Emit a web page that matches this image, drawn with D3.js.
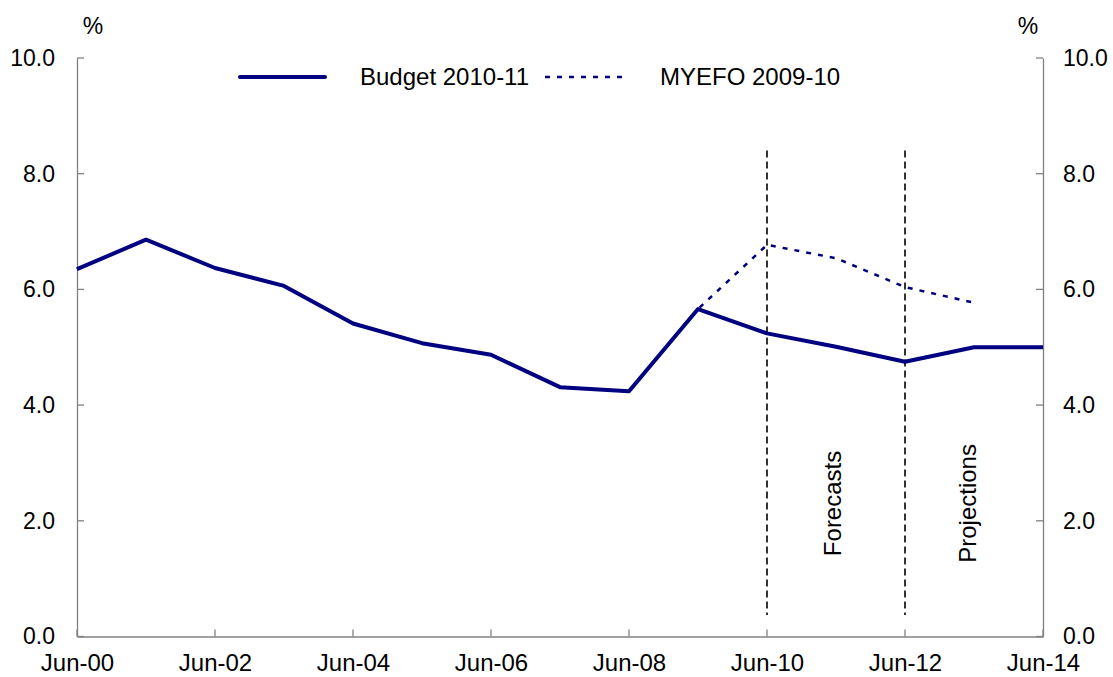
<!DOCTYPE html>
<html>
<head>
<meta charset="utf-8">
<script src="https://cdn.jsdelivr.net/npm/d3@7"></script>
<style>
  body { margin: 0; background: #fff; }
  text { font-family: "Liberation Sans", Arial, sans-serif; fill: #000; }
</style>
</head>
<body>
<div id="chart"></div>
<script>
// data (June of each year)
var years = [2000, 2001, 2002, 2003, 2004, 2005, 2006, 2007, 2008, 2009, 2010, 2011, 2012, 2013, 2014];
var budget = [6.35, 6.86, 6.37, 6.06, 5.41, 5.07, 4.87, 4.31, 4.24, 5.66, 5.24, 5.01, 4.75, 5.00, 5.00];
var myefoYears = [2000, 2001, 2002, 2003, 2004, 2005, 2006, 2007, 2008, 2009, 2010, 2011, 2012, 2013];
var myefo = [6.35, 6.86, 6.37, 6.06, 5.41, 5.07, 4.87, 4.31, 4.24, 5.66, 6.77, 6.54, 6.04, 5.77];
var xTicks = [2000, 2002, 2004, 2006, 2008, 2010, 2012, 2014];
var xTickLabels = ['Jun-00', 'Jun-02', 'Jun-04', 'Jun-06', 'Jun-08', 'Jun-10', 'Jun-12', 'Jun-14'];
var yTicks = [0, 2, 4, 6, 8, 10];
var markers = [2010, 2012];
var markerLabels = ['Forecasts', 'Projections'];
var seriesNames = ['Budget 2010-11', 'MYEFO 2009-10'];

var svgWidth = 1113;
var svgHeight = 677;

var margin = { top: 58, right: 70, bottom: 40.5, left: 77 };
var width = svgWidth - margin.left - margin.right;
var height = svgHeight - margin.top - margin.bottom;

var navy = '#000080';
var axisColor = '#808080';

var svg = d3.select('#chart').append('svg')
  .attr('width', svgWidth)
  .attr('height', svgHeight);

var chartGroup = svg.append('g')
  .attr('transform', `translate(${margin.left}, ${margin.top})`);

// scales
var x = d3.scaleLinear().domain([2000, 2014]).range([0, width]);
var y = d3.scaleLinear().domain([0, 10]).range([height, 0]);

// left axis
var leftAxis = d3.axisLeft(y).tickValues(yTicks).tickSize(0).tickPadding(22).tickFormat(d3.format('.1f'));
var yAxisL = chartGroup.append('g').call(leftAxis);

// right axis
var rightAxis = d3.axisRight(y).tickValues(yTicks).tickSize(0).tickPadding(20).tickFormat(d3.format('.1f'));
var yAxisR = chartGroup.append('g')
  .attr('transform', `translate(${width}, 0)`)
  .call(rightAxis);

// bottom axis
var bottomAxis = d3.axisBottom(x).tickValues(xTicks).tickSize(0).tickPadding(17)
  .tickFormat((d, i) => xTickLabels[i]);
var xAxis = chartGroup.append('g')
  .attr('transform', `translate(0, ${height})`)
  .call(bottomAxis);

[yAxisL, yAxisR, xAxis].forEach(function (ax) {
  ax.select('.domain').attr('stroke', axisColor).attr('stroke-width', 1.3);
  ax.selectAll('text').attr('font-size', '23px').attr('font-family', '"Liberation Sans", Arial, sans-serif');
});
xAxis.selectAll('text').attr('font-size', '24px');

// inward ticks
chartGroup.selectAll('.tickL').data(yTicks).enter().append('line')
  .attr('x1', 0).attr('x2', 7)
  .attr('y1', d => y(d)).attr('y2', d => y(d))
  .attr('stroke', axisColor).attr('stroke-width', 1.3);
chartGroup.selectAll('.tickR').data(yTicks).enter().append('line')
  .attr('x1', width - 7).attr('x2', width)
  .attr('y1', d => y(d)).attr('y2', d => y(d))
  .attr('stroke', axisColor).attr('stroke-width', 1.3);
chartGroup.selectAll('.tickB').data(xTicks).enter().append('line')
  .attr('x1', d => x(d)).attr('x2', d => x(d))
  .attr('y1', height).attr('y2', height - 7)
  .attr('stroke', axisColor).attr('stroke-width', 1.3);

// % labels
svg.append('text').attr('x', 93).attr('y', 34).attr('text-anchor', 'middle')
  .attr('font-size', '23px').text('%');
svg.append('text').attr('x', 1028).attr('y', 34).attr('text-anchor', 'middle')
  .attr('font-size', '23px').text('%');

// forecast / projection markers
chartGroup.selectAll('.marker').data(markers).enter().append('line')
  .attr('x1', d => x(d)).attr('x2', d => x(d))
  .attr('y1', y(8.4)).attr('y2', y(0.37))
  .attr('stroke', '#000').attr('stroke-width', 1.6)
  .attr('stroke-dasharray', '7,4');

var labelX = [2010.95, 2012.9];
chartGroup.selectAll('.markerLabel').data(markerLabels).enter().append('text')
  .attr('transform', (d, i) => `translate(${x(labelX[i])}, ${y(2.3)}) rotate(-90)`)
  .attr('text-anchor', 'middle')
  .attr('dy', '0.35em')
  .attr('font-size', '24px')
  .text(d => d);

// lines
var line = d3.line()
  .x(d => x(d[0]))
  .y(d => y(d[1]));

chartGroup.append('path')
  .datum(years.map((yr, i) => [yr, budget[i]]))
  .attr('fill', 'none')
  .attr('stroke', navy)
  .attr('stroke-width', 4)
  .attr('stroke-linejoin', 'round')
  .attr('d', line);

chartGroup.append('path')
  .datum(myefoYears.map((yr, i) => [yr, myefo[i]]))
  .attr('fill', 'none')
  .attr('stroke', navy)
  .attr('stroke-width', 2.5)
  .attr('stroke-dasharray', '5,7')
  .attr('d', line);

// legend
var legend = svg.append('g');
legend.append('line')
  .attr('x1', 240).attr('x2', 325).attr('y1', 77).attr('y2', 77)
  .attr('stroke', navy).attr('stroke-width', 4).attr('stroke-linecap', 'round');
legend.append('text').attr('x', 360).attr('y', 85).attr('font-size', '24px').text(seriesNames[0]);
legend.append('line')
  .attr('x1', 545).attr('x2', 625).attr('y1', 77).attr('y2', 77)
  .attr('stroke', navy).attr('stroke-width', 2.5).attr('stroke-dasharray', '5,7');
legend.append('text').attr('x', 660).attr('y', 85).attr('font-size', '24px').text(seriesNames[1]);
</script>
</body>
</html>
